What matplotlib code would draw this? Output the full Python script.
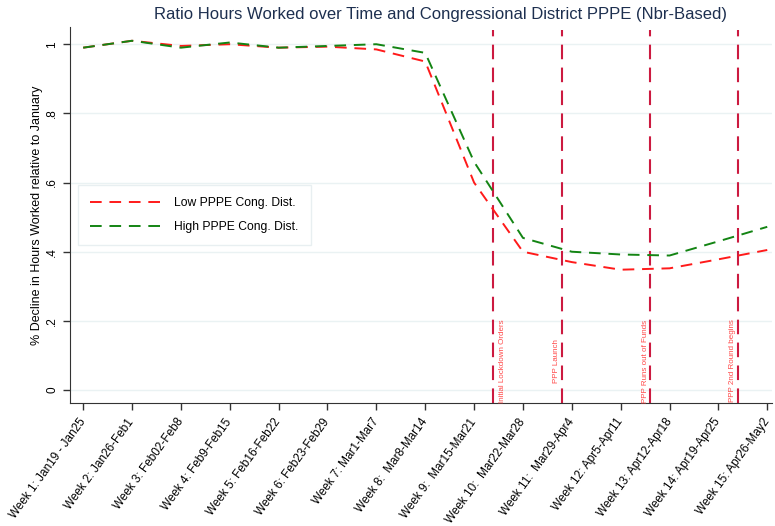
import numpy as np
import matplotlib.pyplot as plt

plt.rcParams['font.family'] = ['Liberation Sans', 'DejaVu Sans']

weeks = np.arange(1, 16)
week_labels = [
    'Week 1: Jan19 - Jan25', 'Week 2: Jan26-Feb1', 'Week 3: Feb02-Feb8',
    'Week 4: Feb9-Feb15', 'Week 5: Feb16-Feb22', 'Week 6: Feb23-Feb29',
    'Week 7: Mar1-Mar7', 'Week 8:  Mar8-Mar14', 'Week 9:  Mar15-Mar21',
    'Week 10:  Mar22-Mar28', 'Week 11:  Mar29-Apr4', 'Week 12: Apr5-Apr11',
    'Week 13: Apr12-Apr18', 'Week 14: Apr19-Apr25', 'Week 15: Apr26-May2',
]
low_pppe = [0.990, 1.010, 0.995, 1.000, 0.990, 0.993, 0.985, 0.950,
            0.600, 0.400, 0.370, 0.348, 0.352, 0.378, 0.405]
high_pppe = [0.990, 1.010, 0.990, 1.005, 0.990, 0.995, 1.000, 0.975,
             0.660, 0.440, 0.400, 0.392, 0.389, 0.430, 0.472]

# policy events (week position) and their labels
event_x = [9.39, 10.79, 12.6, 14.4]
event_labels = ['Initial Lockdown Orders', 'PPP Launch',
                'PPP Runs out of Funds', 'PPP 2nd Round begins']
event_offset = [0.2, -0.1, -0.1, -0.12]

fig = plt.figure(figsize=(7.75, 5.26), dpi=100)
ax = fig.add_axes([0.0903, 0.2338, 0.906, 0.715])

ax.set_xlim(0.73, 15.1)
ax.set_ylim(-0.0375, 1.05)

for v in [0, 0.2, 0.4, 0.6, 0.8, 1.0]:
    ax.axhline(v, color='#eaf2f3', lw=1.0, zorder=0)

ax.plot(weeks, low_pppe, color='#ff1a1a', lw=1.4, ls=(0, (6, 4)),
        label='Low PPPE Cong. Dist.', zorder=3)
ax.plot(weeks, high_pppe, color='#138413', lw=1.4, ls=(0, (6, 4)),
        label='High PPPE Cong. Dist.', zorder=3)

for xv, lab, off in zip(event_x, event_labels, event_offset):
    ax.axvline(xv, ymax=(1.04 + 0.0375) / 1.0875, color='#cc1a40', lw=1.5,
               ls=(0, (7, 4)), zorder=2)
    ax.text(xv + off, 0.084, lab, rotation=90, color='#ff4848',
            fontsize=5.8, ha='center', va='center')

leg = ax.legend(loc='upper left', bbox_to_anchor=(0.011, 0.58),
                fontsize=8.7, frameon=True, fancybox=False, handlelength=6,
                borderpad=1.0, labelspacing=1.0, handletextpad=1.0,
                borderaxespad=0)
leg.get_frame().set_edgecolor('#e3ecee')
leg.get_frame().set_linewidth(1.0)

ax.set_xticks(weeks)
ax.set_xticklabels(week_labels, rotation=54, ha='right', va='center',
                   rotation_mode='anchor', fontsize=8.5)
ax.set_yticks([0, 0.2, 0.4, 0.6, 0.8, 1.0])
ax.set_yticklabels(['0', '.2', '.4', '.6', '.8', '1'], rotation=90,
                   va='center', fontsize=8.5)
ax.tick_params(direction='out', length=5, width=1, color='#333333')
ax.tick_params(axis='x', pad=7)

for s in ['top', 'right']:
    ax.spines[s].set_visible(False)
for s in ['left', 'bottom']:
    ax.spines[s].set_color('#333333')

ax.set_ylabel('% Decline in Hours Worked relative to January', fontsize=9,
              labelpad=2)
ax.set_title('Ratio Hours Worked over Time and Congressional District PPPE (Nbr-Based)',
             fontsize=12, color='#1d2f4f', pad=6, x=0.527)

fig.savefig('out.png', dpi=100)
